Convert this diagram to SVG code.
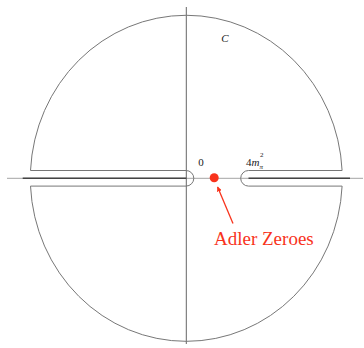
<svg xmlns="http://www.w3.org/2000/svg" width="364" height="348" viewBox="0 0 364 348">
<style>
.axis{stroke:#9a9a9a;stroke-width:0.9;fill:none}
.vaxis{stroke:#666;stroke-width:1;fill:none}
.contour{stroke:#777;stroke-width:1;fill:none}
.cut{stroke:#444;stroke-width:1.6;fill:none}
.lbl{font-family:"Liberation Serif","DejaVu Serif",serif;fill:#222}
.red{fill:#f8331c}
</style>
<defs>
<marker id="ah" viewBox="0 0 10 10" refX="9" refY="5" markerWidth="5" markerHeight="5" orient="auto" markerUnits="userSpaceOnUse">
<path d="M0,0 L10,5 L0,10 Z" fill="#f8331c"/>
</marker>
</defs>
<g id="axes">
<line class="axis" x1="7" y1="178.3" x2="363" y2="178.3"/>
<line class="vaxis" x1="186.3" y1="7" x2="186.3" y2="344"/>
</g>
<g id="cuts">
<line class="cut" x1="22.7" y1="178.3" x2="186.3" y2="178.3"/>
<line class="cut" x1="248.5" y1="178.3" x2="350" y2="178.3"/>
</g>
<g id="contour">
<path class="contour" d="M30.5 170.5 H186 A7.8 7.8 0 0 1 186 186.1 H30.5 A156 163.5 0 0 0 342.1 186.1 H248.5 A7.8 7.8 0 0 1 248.5 170.5 H342.1 A156 163.5 0 0 0 30.5 170.5 Z"/>
</g>
<g id="labels">
<text class="lbl" x="201" y="166" font-size="11" text-anchor="middle">0</text>
<text class="lbl" x="246" y="166" font-size="11">4<tspan font-style="italic">m</tspan></text>
<text class="lbl" x="260" y="157" font-size="7">2</text>
<text class="lbl" x="259.5" y="169" font-size="7" font-style="italic">π</text>
<text class="lbl" x="225" y="41.5" font-size="11" font-style="italic" text-anchor="middle">C</text>
</g>
<g id="adler">
<circle class="red" cx="214.2" cy="177.7" r="4.5"/>
<line x1="233" y1="223.5" x2="217.6" y2="187" stroke="#f8331c" stroke-width="1.3" marker-end="url(#ah)"/>
<text x="214" y="245" font-size="19" font-family="'Liberation Serif','DejaVu Serif',serif" fill="#f8331c">Adler Zeroes</text>
</g>
</svg>
